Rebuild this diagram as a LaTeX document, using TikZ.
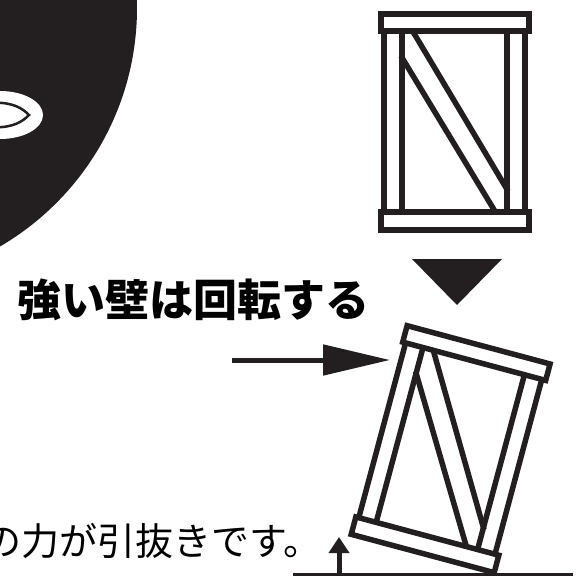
\documentclass[tikz,border=0pt]{standalone}
\usepackage{fontspec}
\newfontfamily\jpfont{Noto Sans CJK JP}
\usetikzlibrary{arrows.meta}

\definecolor{ink}{HTML}{231F20}

\tikzset{
	member/.style={draw=ink, line width=5.5pt},
	push/.style={draw=ink, line width=5pt, -{Triangle[length=67pt, width=30pt]}},
	lift/.style={draw=ink, line width=5pt, -{Triangle[length=16pt, width=20pt]}},
	% one wall frame, origin at the outer top left corner
	wallframe/.pic={
		% top and bottom plates
		\draw[member] (3,3) rectangle (151,20);
		\draw[member] (3,201) rectangle (151,219);
		% studs
		\draw[member] (6,20) -- (6,201) (24,20) -- (24,201);
		\draw[member] (129,20) -- (129,201) (147,20) -- (147,201);
		% brace
		\draw[member] (34,19) -- (130,180);
		\draw[member] (23,45) -- (118,202);
	}
}

\begin{document}
\begin{tikzpicture}[x=1pt, y=-1pt]
	\useasboundingbox (0,0) rectangle (579,576);
	
	% the dark head with its eye
	\fill[ink] (-139,8) circle (276);
	\fill[white] (0,115) ellipse (43 and 24);
	\draw[ink, line width=2.5pt] (-5,102.5) .. controls (14,103) and (22,108) .. (29,115)
		.. controls (22,122) and (14,127) .. (-5,127.5);
	
	% wall before and after
	\pic at (378,11) {wallframe};
	\fill[ink] (412,259) -- (502,259) -- (457,305) -- cycle;
	\pic[rotate=-15] at (405,322) {wallframe};
	
	% labels
	\node[anchor=east, inner sep=0pt, font=\jpfont\bfseries\fontsize{44pt}{44pt}\selectfont] (strong) at (370,300) {強い壁は回転する};
	\node[anchor=west, inner sep=0pt, font=\jpfont\fontsize{38pt}{38pt}\selectfont] (pull) at (-17,541) {の力が引抜きです。};
	
	% forces and ground
	\coordinate (pushstart) at (232,360);
	\coordinate (pushend) at (390,360);
	\draw[push] (pushstart) -- (pushend);
	\coordinate (liftstart) at (339,580);
	\coordinate (liftend) at (339,537);
	\draw[lift] (liftstart) -- (liftend);
	\coordinate (groundl) at (293,574);
	\coordinate (groundr) at (573,574);
	\draw[ink, line width=3pt] (groundl) -- (groundr);
	
\end{tikzpicture}
\end{document}
